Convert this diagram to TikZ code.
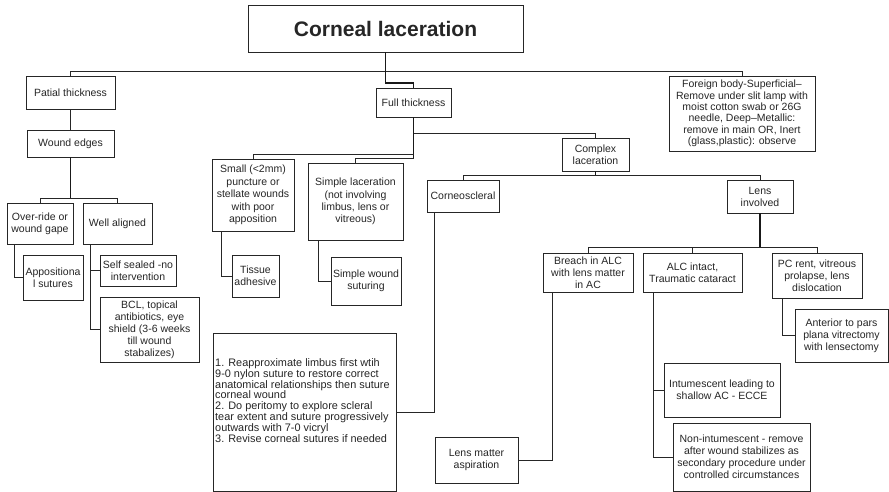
\documentclass[tikz,border=0pt]{standalone}
\usepackage{fontspec}
\setmainfont{Liberation Sans}
\begin{document}
\begin{tikzpicture}[x=1pt,y=-1pt,
  box/.style={draw=black!85, line width=0.8pt, inner sep=1pt, align=center,
    text=black!85, font=\fontsize{10.5}{12}\selectfont},
  link/.style={draw=black!85, line width=0.8pt},
  stem/.style={draw=black!90, line width=1.3pt}]
\useasboundingbox (0,0) rectangle (889,492);
\fill[white] (0,0) rectangle (889,492);

% ---------- boxes ----------
\node[box, minimum width=275pt, minimum height=47pt,
  font=\fontsize{21}{24}\selectfont\bfseries] (title) at (385.5,28.5) {Corneal laceration};

\node[box, minimum width=89pt, minimum height=33pt] (partial) at (70.5,92.5) {Patial thickness};
\node[box, minimum width=75pt, minimum height=29pt] (full) at (413.5,102.5) {Full thickness};
\node[box, minimum width=146pt, minimum height=75pt,
  font=\fontsize{10.5}{11.4}\selectfont] (foreign) at (742,113.5)
  {Foreign body-Superficial–\\Remove under slit lamp with\\moist cotton swab or 26G\\needle, Deep–Metallic:\\remove in main OR, Inert\\(glass,plastic): observe};

\node[box, minimum width=87pt, minimum height=27pt] (wound) at (70.5,143.5) {Wound edges};
\node[box, minimum width=66pt, minimum height=41pt] (override) at (40,223.5) {Over-ride or\\wound gape};
\node[box, minimum width=69pt, minimum height=41pt] (well) at (117.5,223.5) {Well aligned};
\node[box, minimum width=60pt, minimum height=45pt] (appos) at (53,277.5) {Appositiona\\l sutures};
\node[box, minimum width=76pt, minimum height=31pt] (selfseal) at (138,270.5) {Self sealed -no\\intervention};
\node[box, minimum width=99pt, minimum height=65pt] (bcl) at (149.5,329.5)
  {BCL, topical\\antibiotics, eye\\shield (3-6 weeks\\till wound\\stabalizes)};

\node[box, minimum width=82pt, minimum height=72pt,
  font=\fontsize{10.5}{12.4}\selectfont] (small) at (253,195)
  {Small (<2mm)\\puncture or\\stellate wounds\\with poor\\apposition};
\node[box, minimum width=95pt, minimum height=77pt,
  font=\fontsize{10.5}{12.4}\selectfont] (simplelac) at (355.5,201.5)
  {Simple laceration\\(not involving\\limbus, lens or\\vitreous)};
\node[box, minimum width=47pt, minimum height=42pt] (tissue) at (255.5,276) {Tissue\\adhesive};
\node[box, minimum width=70pt, minimum height=48pt] (suturing) at (366,281) {Simple wound\\suturing};

\node[box, minimum width=67pt, minimum height=33pt] (complex) at (595.5,154.5) {Complex\\laceration};
\node[box, minimum width=72pt, minimum height=32pt] (corneo) at (463,196) {Corneoscleral};
\node[box, minimum width=66pt, minimum height=33pt] (lens) at (760,196.5) {Lens\\involved};

\node[box, minimum width=90pt, minimum height=39pt] (breach) at (588,272.5) {Breach in ALC\\with lens matter\\in AC};
\node[box, minimum width=99pt, minimum height=39pt] (alc) at (692.5,272.5) {ALC intact,\\Traumatic cataract};
\node[box, minimum width=90pt, minimum height=45pt] (pcrent) at (817,275.5) {PC rent, vitreous\\prolapse, lens\\dislocation};

\node[box, minimum width=183pt, minimum height=158pt] (steps) at (304.5,412) {};
\node[anchor=west, align=left, inner sep=0pt, text=black!85,
  font=\fontsize{10.9}{10.9}\selectfont] (stepstext) at (215,400.5)
  {1. Reapproximate limbus first wtih\\9-0 nylon suture to restore correct\\anatomical relationships then suture\\corneal wound\\2. Do peritomy to explore scleral\\tear extent and suture progressively\\outwards with 7-0 vicryl\\3. Revise corneal sutures if needed};

\node[box, minimum width=83pt, minimum height=46pt] (lensmatter) at (476.5,460) {Lens matter\\aspiration};
\node[box, minimum width=116pt, minimum height=54pt] (intum) at (722,390) {Intumescent leading to\\shallow AC - ECCE};
\node[box, minimum width=137pt, minimum height=68pt] (nonintum) at (741.5,457)
  {Non-intumescent - remove\\after wound stabilizes as\\secondary procedure under\\controlled circumstances};
\node[box, minimum width=93pt, minimum height=53pt] (anterior) at (841.5,335.5)
  {Anterior to pars\\plana vitrectomy\\with lensectomy};

% ---------- connectors ----------
% top level
\draw[link] (partial.north) -- (partial.north |- 0,71) -- (foreign.north |- 0,71) -- (foreign.north);
\draw[stem] (title.south) -- (title.south |- 0,83) -| (full.north);

% partial thickness branch
\draw[link] (partial) -- (wound);
\draw[stem] (wound.south) -- (wound.south |- 0,198);
\draw[link] (override.north) |- (well.north |- 0,198) -- (well.north);
\draw[link] (override.south -| 14,0) |- (appos.west);
\draw[link] (well.south -| 90.7,0) |- (selfseal.west);
\draw[link] (well.south -| 90.7,0) |- (bcl.west);

% full thickness branch
\draw[stem] (full.south) -- (full.south |- 0,158);
\draw[link] (full.south |- 0,158) -| (simplelac.north);
\draw[link] (full.south |- 0,154) -| (small.north);
\draw[link] (full.south |- 0,133) -| (complex.north);
\draw[link] (small.south -| 221,0) |- (tissue.west);
\draw[link] (simplelac.south -| 318,0) |- (suturing.west);

% complex laceration branch
\draw[stem] (complex.south) -- (complex.south |- 0,175);
\draw[link] (corneo.north) |- (lens.north |- 0,175) -- (lens.north);
\draw[link] (corneo.south -| 434,0) |- (steps.east);

% lens involved branch
\draw[stem] (lens.south) -- (lens.south |- 0,247);
\draw[link] (breach.north) |- (pcrent.north |- 0,247) -- (pcrent.north);
\draw[link] (alc.north) -- (alc.north |- 0,247);
\draw[link] (breach.south -| 552,0) |- (lensmatter.east);
\draw[link] (alc.south -| 653,0) |- (intum.west);
\draw[link] (alc.south -| 653,0) |- (nonintum.west);
\draw[link] (pcrent.south -| 782,0) |- (anterior.west);
\end{tikzpicture}
\end{document}
